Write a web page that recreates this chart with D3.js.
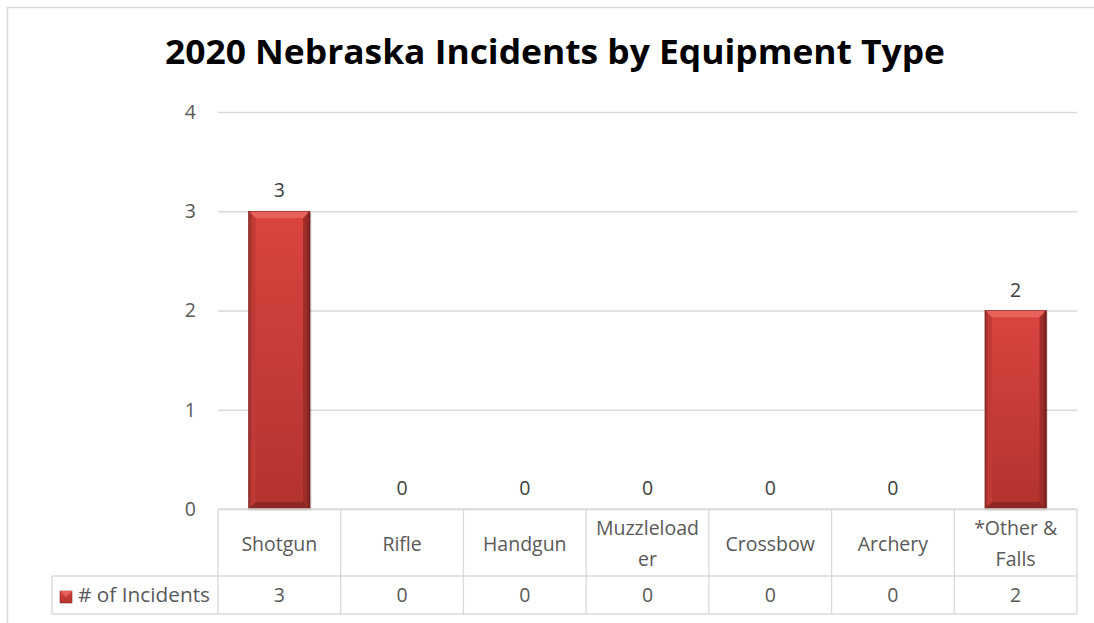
<!DOCTYPE html>
<html><head><meta charset="utf-8">
<script src="https://cdn.jsdelivr.net/npm/d3@7"></script>
<style>body{margin:0;background:#fff}svg{display:block}text{font-family:"Open Sans",Lato,sans-serif}</style>
</head><body><svg id="c" width="1094" height="623"></svg>
<script>
const title = "2020 Nebraska Incidents by Equipment Type";
const categories = ["Shotgun","Rifle","Handgun","Muzzleloader","Crossbow","Archery","*Other & Falls"];
const categoryLines = [["Shotgun"],["Rifle"],["Handgun"],["Muzzleload","er"],["Crossbow"],["Archery"],["*Other &","Falls"]];
const seriesName = "# of Incidents";
const values = [3,0,0,0,0,0,2];
const yTicks = [0,1,2,3,4];

const svg = d3.select("#c");
const gray = "#595959", grid = "#d9d9d9";
const L = 218, R = 1077, T = 112, B = 509;
const fs = 19.5;

const defs = svg.append("defs");
const gV = defs.append("linearGradient").attr("id","gv").attr("x1",0).attr("y1",0).attr("x2",0).attr("y2",1);
gV.append("stop").attr("offset","0").attr("stop-color","#d9443f");
gV.append("stop").attr("offset","1").attr("stop-color","#b3332f");
const gH = defs.append("linearGradient").attr("id","gh").attr("x1",0).attr("y1",0).attr("x2",1).attr("y2",0);
gH.append("stop").attr("offset","0").attr("stop-color","#000").attr("stop-opacity",0.25);
gH.append("stop").attr("offset","0.06").attr("stop-color","#000").attr("stop-opacity",0);
gH.append("stop").attr("offset","0.94").attr("stop-color","#000").attr("stop-opacity",0);
gH.append("stop").attr("offset","1").attr("stop-color","#000").attr("stop-opacity",0.3);

// chart border
svg.append("rect").attr("x",7.5).attr("y",7.5).attr("width",1100).attr("height",700)
  .attr("fill","none").attr("stroke","#d9d9d9").attr("stroke-width",1.5);

svg.append("text").attr("x",555).attr("y",64).attr("text-anchor","middle")
  .attr("font-size",34).attr("font-weight",700).attr("fill","#000")
  .attr("textLength",780).attr("lengthAdjust","spacingAndGlyphs").text(title);

const x = d3.scaleBand().domain(categories).range([L,R]).paddingInner(0).paddingOuter(0);
const y = d3.scaleLinear().domain([0,4]).range([B,T]);

// gridlines via axis
const yAxis = svg.append("g").attr("transform",`translate(${L},0)`)
  .call(d3.axisLeft(y).tickValues(yTicks).tickSize(-(R-L)).tickPadding(22).tickFormat(d3.format("d")));
yAxis.select(".domain").remove();
yAxis.selectAll("line").attr("stroke",grid).attr("stroke-width",1.3);
yAxis.selectAll("text").attr("fill",gray).attr("font-size",fs).attr("font-family","Open Sans, sans-serif");

// bars
const bw = x.bandwidth()*0.5;
const bars = svg.append("g").selectAll("g").data(values.map((v,i)=>({c:categories[i],v}))).join("g")
  .attr("transform",d=>`translate(${x(d.c)+(x.bandwidth()-bw)/2},0)`);
bars.filter(d=>d.v>0).each(function(d){
  const g = d3.select(this), top = y(d.v), h = B - y(d.v), bv = 7;
  g.append("rect").attr("x",1.5).attr("y",top+1.5).attr("width",bw).attr("height",h).attr("fill","#000").attr("opacity",0.12);
  g.append("rect").attr("y",top).attr("width",bw).attr("height",h).attr("fill","url(#gv)");
  g.append("polygon").attr("points",`0,${top} ${bw},${top} ${bw-bv},${top+bv} ${bv},${top+bv}`).attr("fill","#e8625c");
  g.append("polygon").attr("points",`0,${top} ${bv},${top+bv} ${bv},${top+h-bv} 0,${top+h}`).attr("fill","#c23a36");
  g.append("polygon").attr("points",`${bw},${top} ${bw-bv},${top+bv} ${bw-bv},${top+h-bv} ${bw},${top+h}`).attr("fill","#9e2c29");
  g.append("polygon").attr("points",`0,${top+h} ${bv},${top+h-bv} ${bw-bv},${top+h-bv} ${bw},${top+h}`).attr("fill","#8e2826");
  g.append("rect").attr("x",bv).attr("y",top+bv).attr("width",bw-2*bv).attr("height",Math.max(0,h-2*bv)).attr("fill","url(#gv)");
  g.append("rect").attr("y",top).attr("width",bw).attr("height",h).attr("fill","url(#gh)");
  g.append("rect").attr("y",top).attr("width",bw).attr("height",h).attr("fill","none").attr("stroke","#7a2220").attr("stroke-width",0.6);
});
bars.append("text").attr("x",bw/2).attr("y",d=>y(d.v)-14).attr("text-anchor","middle")
  .attr("fill","#404040").attr("font-size",fs).text(d=>d.v);

// data table
const rowTop = B, rowMid = 576, rowBot = 614, legL = 52;
const tbl = svg.append("g").attr("stroke",grid).attr("stroke-width",1.3);
tbl.append("line").attr("x1",L).attr("x2",R).attr("y1",rowTop).attr("y2",rowTop);
tbl.append("line").attr("x1",legL).attr("x2",R).attr("y1",rowMid).attr("y2",rowMid);
tbl.append("line").attr("x1",legL).attr("x2",R).attr("y1",rowBot).attr("y2",rowBot);
tbl.selectAll("line.v").data(categories.map(c=>x(c)).concat([R])).join("line")
  .attr("x1",d=>d).attr("x2",d=>d).attr("y1",rowTop).attr("y2",rowBot);
tbl.append("line").attr("x1",legL).attr("x2",legL).attr("y1",rowMid).attr("y2",rowBot);

const hdr = svg.append("g").selectAll("text").data(categories).join("text")
  .attr("text-anchor","middle").attr("fill",gray).attr("font-size",fs)
  .attr("x",c=>x(c)+x.bandwidth()/2);
hdr.each(function(c,i){
  const lines = categoryLines[i], t = d3.select(this);
  const y0 = lines.length===1 ? 551 : 535;
  lines.forEach((ln,k)=>t.append("tspan").attr("x",x(c)+x.bandwidth()/2).attr("y",y0+k*31).text(ln));
});
svg.append("g").selectAll("text").data(values).join("text")
  .attr("text-anchor","middle").attr("fill",gray).attr("font-size",fs)
  .attr("x",(d,i)=>x(categories[i])+x.bandwidth()/2).attr("y",602).text(d=>d);

svg.append("rect").attr("x",60).attr("y",591).attr("width",12).attr("height",12).attr("fill","url(#gv)").attr("stroke","#8e2826").attr("stroke-width",0.6);
svg.append("polygon").attr("points","60,591 72,591 66,597").attr("fill","#e8625c");
svg.append("text").attr("x",78).attr("y",602).attr("fill",gray).attr("font-size",fs)
  .attr("textLength",132).attr("lengthAdjust","spacingAndGlyphs").text(seriesName);
</script></body></html>
